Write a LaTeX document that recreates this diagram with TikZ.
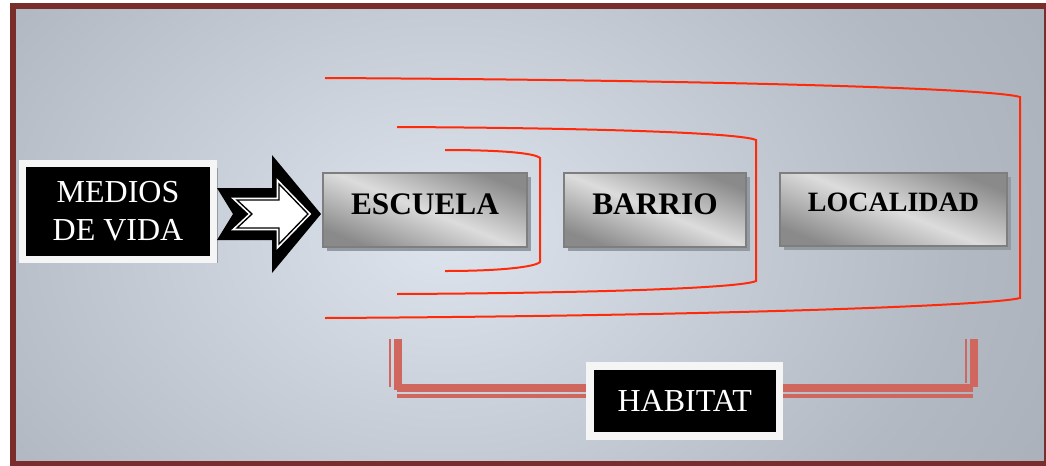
\documentclass[tikz,border=0pt]{standalone}
\usepackage{fontspec}
\setmainfont{Liberation Serif}
\usetikzlibrary{shadows}
\definecolor{framec}{HTML}{7A2E2C}
\definecolor{bgin}{HTML}{DEE4ED}
\definecolor{bgmid}{HTML}{B2B9C2}
\definecolor{bgout}{HTML}{8E949C}
\definecolor{redl}{HTML}{FF2A0A}
\definecolor{habc}{HTML}{D0675F}
\definecolor{metd}{HTML}{8A8A8A}
\definecolor{metl}{HTML}{DCDCDC}
\definecolor{metb}{HTML}{7E7E7E}
\definecolor{shadowc}{HTML}{949AA1}
\definecolor{boxw}{HTML}{F5F5F5}
\pgfdeclareradialshading{bgshade}{\pgfpoint{0bp}{0bp}}{color(0bp)=(bgin); color(16bp)=(bgmid); color(40bp)=(bgout); color(50bp)=(bgout)}
\tikzset{
  metalbox/.style={draw=metb, line width=1.5pt, top color=metd, bottom color=metd,
    middle color=metl, shading angle=-22, inner sep=0pt, outer sep=0pt,
    text height=6.6pt, text depth=0pt,
    drop shadow={shadow xshift=3pt, shadow yshift=-3pt, fill=shadowc, opacity=1},
    font=\fontsize{23.5}{28}\selectfont\bfseries, text=black},
  blackbox/.style={fill=black, draw=boxw, line width=5.5pt, text=white, inner sep=0pt,
    outer sep=0pt, align=center,
    drop shadow={shadow xshift=3pt, shadow yshift=-3pt, fill=shadowc, opacity=1},
    font=\fontsize{24}{28.5}\selectfont},
  redline/.style={draw=redl, line width=1.5pt},
  habfill/.style={fill=habc},
}
\begin{document}
\begin{tikzpicture}[x=0.75pt,y=-0.75pt]
\useasboundingbox (0,0) rectangle (1046,465);
% background
\begin{scope}
  \clip (16,9) rectangle (1044,461);
  \fill[bgout] (16,9) rectangle (1044,461);
  \shade[shading=bgshade] (445,235) ellipse[x radius=800, y radius=600];
\end{scope}
\draw[framec, line width=4.5pt] (13,6) rectangle (1047,464);

% red brackets
\draw[redline] (325,78) .. controls (700,80) and (990,88) .. (1020,97)
  -- (1020,298) .. controls (990,306) and (700,316) .. (325,318);
\draw[redline] (397,127) .. controls (600,128) and (740,133) .. (756,140)
  -- (756,281) .. controls (740,288) and (600,293) .. (397,294);
\draw[redline] (445,150) .. controls (500,150) and (535,153) .. (540,158)
  -- (540,262) .. controls (535,267) and (500,271) .. (445,271);

% boxes
\node[blackbox, minimum width=143.6pt, minimum height=71.6pt] (medios) at (118,211.5) {\raisebox{-2pt}{MEDIOS}\\\raisebox{-2pt}{DE VIDA}};
\node[metalbox, minimum width=153pt, minimum height=55.5pt] (escuela) at (425,210) {ESCUELA};
\node[metalbox, minimum width=136.5pt, minimum height=55.5pt] (barrio) at (655,210) {BARRIO};
\node[metalbox, minimum width=170.25pt, minimum height=54.75pt, text height=3.7pt, font=\fontsize{21}{25}\selectfont\bfseries] (localidad) at (893.5,209.5) {LOCALIDAD};

% big arrow
\fill[black] (217,188) -- (272,188) -- (272,155) -- (321,214) -- (272,273)
  -- (272,240) -- (217,240) -- (233,214) -- cycle;
\draw[white, fill=white, line width=3.5pt, line join=miter]
  (237,200) -- (279,200) -- (279,184) -- (308,214) -- (279,244) -- (279,228) -- (237,228) -- (252,214) -- cycle;
\draw[black, line width=1pt, line join=miter]
  (237,200) -- (279,200) -- (279,184) -- (308,214) -- (279,244) -- (279,228) -- (237,228) -- (252,214) -- cycle;

% habitat bracket
\coordinate (hl) at (589,392);
\coordinate (hr) at (781,392);
\fill[habfill] (388.5,339) rectangle (391,387);
\fill[habfill] (394,339) rectangle (401.5,390);
\fill[habfill] (397,384) rectangle (hl);
\fill[habfill] (397,394.3) rectangle (hl |- 0,397.7);
\fill[habfill] (hr |- 0,384) rectangle (973,392);
\fill[habfill] (hr |- 0,394.3) rectangle (973,397.7);
\fill[habfill] (964.8,339) rectangle (967,383);
\fill[habfill] (970,339) rectangle (977.7,387);
\node[blackbox, minimum width=142.1pt, minimum height=52.5pt] (habitat) at (684.75,401) {HABITAT};
\end{tikzpicture}
\end{document}
